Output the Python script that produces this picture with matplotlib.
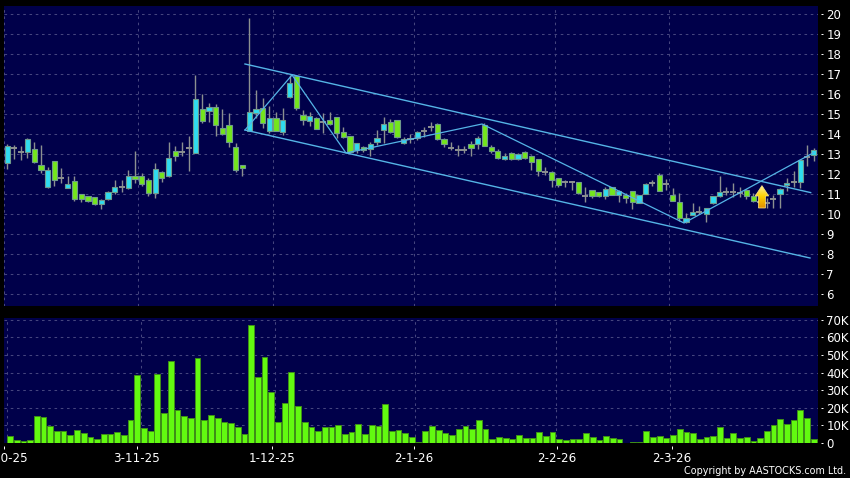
import matplotlib
matplotlib.use('Agg')
import matplotlib.pyplot as plt
import numpy as np
from matplotlib.patches import Polygon

# Daily candles
opens = [12.53, 13.32, 13.12, 13.12, 13.23, 12.43, 11.33, 12.63, 11.82, 11.32,
         11.63, 10.98, 10.92, 10.87, 10.52, 10.73, 11.12, 11.35, 11.28, 11.88,
         11.92, 11.68, 11.03, 12.08, 11.92, 13.13, 13.10, 13.28, 13.03, 15.23,
         15.17, 15.33, 14.28, 14.43, 13.33, 12.43, 14.17, 15.03, 15.32, 14.17,
         14.82, 14.12, 15.83, 16.92, 14.93, 14.63, 14.78, 14.58, 14.72, 14.83,
         14.12, 13.92, 13.20, 13.37, 13.23, 13.58, 14.18, 14.58, 14.68, 13.55,
         13.73, 13.78, 14.13, 14.37, 14.52, 13.73, 13.32, 13.18, 13.18, 13.48,
         13.48, 14.43, 13.37, 13.17, 12.73, 13.07, 12.73, 13.12, 12.90, 12.73,
         12.08, 12.12, 11.82, 11.60, 11.58, 11.58, 10.88, 11.22, 11.08, 10.88,
         11.37, 10.93, 10.97, 11.13, 10.57, 11.02, 11.53, 11.93, 11.48, 10.93,
         10.58, 9.62, 9.97, 10.12, 9.98, 10.53, 10.92, 11.10, 11.08, 11.03,
         11.18, 10.92, 10.62, 10.55, 10.77, 10.98, 11.45, 11.58, 11.58, 12.87,
         12.95]
closes = [13.40, 13.32, 13.12, 13.73, 12.62, 12.18, 12.18, 11.68, 11.82, 11.48,
          10.73, 10.73, 10.67, 10.52, 10.68, 11.08, 11.33, 11.35, 11.92, 11.77,
          11.52, 11.05, 12.27, 11.82, 12.78, 12.92, 13.10, 13.28, 15.73, 14.67,
          15.33, 14.43, 14.02, 13.62, 12.22, 12.32, 15.12, 15.23, 14.53, 14.82,
          14.17, 14.72, 16.53, 15.28, 14.72, 14.92, 14.27, 14.58, 14.52, 14.05,
          13.83, 13.12, 13.53, 13.18, 13.48, 13.82, 14.52, 14.08, 13.83, 13.77,
          13.73, 14.12, 14.13, 14.37, 13.73, 13.48, 13.32, 13.18, 13.18, 13.28,
          13.82, 13.42, 13.17, 12.82, 12.92, 12.73, 12.98, 12.78, 12.58, 12.13,
          12.08, 11.68, 11.43, 11.60, 11.58, 11.03, 10.88, 10.90, 10.88, 11.27,
          10.97, 11.13, 10.78, 10.58, 10.93, 11.52, 11.53, 11.17, 11.48, 10.67,
          9.78, 9.78, 10.12, 10.12, 10.32, 10.88, 11.08, 11.10, 11.08, 11.03,
          10.88, 10.67, 10.62, 10.55, 10.77, 11.27, 11.57, 11.58, 12.70, 12.87,
          13.20]
highs = [13.48, 13.45, 13.40, 13.78, 13.62, 13.45, 12.33, 12.63, 12.28, 11.90,
         11.90, 10.98, 10.92, 10.87, 10.73, 11.15, 11.70, 11.70, 12.20, 13.15,
         12.03, 11.78, 12.53, 12.15, 13.58, 13.40, 13.58, 13.92, 16.95, 16.00,
         15.53, 15.48, 15.23, 15.03, 13.53, 12.43, 19.80, 16.20, 15.78, 15.40,
         15.12, 15.28, 16.95, 16.92, 15.20, 15.12, 14.83, 15.03, 15.08, 14.83,
         14.37, 13.92, 13.53, 13.42, 13.62, 14.20, 14.87, 14.73, 14.70, 13.83,
         14.00, 14.17, 14.37, 14.62, 14.57, 13.78, 13.62, 13.45, 13.40, 13.65,
         13.90, 14.53, 13.45, 13.23, 13.03, 13.10, 13.03, 13.17, 12.95, 12.73,
         12.33, 12.15, 11.82, 11.70, 11.67, 11.58, 11.33, 11.22, 11.08, 11.37,
         11.37, 11.20, 11.03, 11.13, 10.95, 11.57, 11.70, 12.03, 11.73, 11.28,
         11.03, 10.03, 10.53, 10.40, 10.32, 10.92, 11.90, 11.33, 11.53, 11.33,
         11.23, 11.03, 10.87, 10.78, 10.95, 11.28, 11.78, 12.15, 12.73, 13.45,
         13.28]
lows = [12.25, 12.75, 12.70, 12.82, 12.57, 12.03, 11.32, 11.40, 11.57, 11.28,
        10.67, 10.62, 10.62, 10.45, 10.23, 10.70, 11.00, 11.12, 11.25, 11.57,
        11.42, 10.92, 10.82, 11.62, 11.83, 12.67, 12.92, 12.15, 13.03, 14.57,
        14.62, 13.92, 13.95, 13.37, 12.12, 11.92, 14.17, 14.78, 14.28, 14.03,
        14.17, 13.95, 15.78, 15.20, 14.45, 14.42, 14.23, 14.03, 14.45, 13.78,
        13.78, 13.07, 13.03, 13.08, 12.92, 13.45, 13.53, 14.03, 13.82, 13.50,
        13.57, 13.70, 13.87, 14.17, 13.70, 13.33, 13.20, 12.92, 13.03, 12.92,
        13.23, 13.40, 13.07, 12.73, 12.70, 12.72, 12.70, 12.73, 12.20, 11.92,
        11.95, 11.37, 11.33, 11.33, 11.20, 11.00, 10.62, 10.82, 10.87, 10.75,
        10.95, 10.62, 10.57, 10.25, 10.53, 11.00, 11.40, 11.15, 11.20, 10.65,
        9.67, 9.53, 9.93, 10.00, 9.62, 10.50, 10.87, 10.95, 10.87, 10.87,
        10.73, 10.62, 10.45, 10.28, 10.28, 10.32, 11.17, 11.37, 11.32, 12.42,
        12.67]

# Volume in thousands
volume = [4.2, 1.7, 0.9, 1.7, 15.1, 14.7, 9.4, 7.0, 6.6, 4.3,
          7.4, 5.8, 3.4, 2.3, 5.1, 5.3, 6.4, 4.3, 13.0, 38.7,
          8.3, 7.0, 39.0, 17.2, 46.6, 18.9, 15.5, 14.0, 48.1, 13.2,
          16.0, 14.2, 12.1, 11.5, 9.0, 5.3, 66.8, 37.5, 48.7, 29.0,
          11.7, 22.6, 40.6, 20.8, 12.1, 9.2, 6.8, 9.2, 9.0, 10.4,
          5.3, 6.4, 10.9, 4.9, 10.4, 9.8, 22.3, 7.0, 7.4, 5.7,
          3.4, 0.5, 6.8, 9.8, 7.2, 5.5, 4.5, 8.1, 9.4, 8.1,
          13.0, 7.9, 2.5, 3.4, 2.8, 2.3, 4.7, 3.0, 2.8, 6.0,
          3.8, 6.0, 2.3, 1.9, 2.1, 2.5, 5.8, 3.4, 1.9, 4.0,
          2.8, 2.3, 0.2, 0.3, 0.5, 7.0, 3.4, 4.2, 2.8, 4.7,
          8.1, 6.2, 5.8, 2.1, 3.4, 4.2, 9.0, 2.8, 5.7, 3.0,
          3.4, 1.3, 2.6, 7.0, 10.2, 13.6, 10.9, 13.0, 18.9, 14.0,
          2.3]

# Channel and zigzag trend lines
upper_idx = [35.37, 119.55]
upper_price = [17.5, 11.07]
lower_idx = [35.37, 119.45]
lower_price = [14.2, 7.8]
zigzag_idx = [35.37, 42.37, 50.4, 70.64, 100.7, 120.0]
zigzag_price = [14.2, 16.95, 13.05, 14.5, 9.55, 13.07]

# Axis labels
date_ticks = [-0.9, 18.9, 39.1, 60.3, 81.6, 98.8]
date_labels = ['2-10-25', '3-11-25', '1-12-25', '2-1-26', '2-2-26', '2-3-26']
date_grid = [-0.5, 19.5, 39.5, 60.5, 81.5, 98.5]
price_ticks = list(range(6, 21))
vol_ticks = [0, 10, 20, 30, 40, 50, 60, 70]

BG = '#00004a'
CYAN = '#2fdcf0'
GREEN = '#74e61c'
WICK = '#8c9090'
GRID = '#45457e'
LINE = '#55b4e6'

W, H = 850, 478
fig = plt.figure(figsize=(8.5, 4.78), dpi=100, facecolor='black')
ax = fig.add_axes([4 / W, 1 - 306 / H, 814 / W, 300 / H], facecolor=BG)
vax = fig.add_axes([4 / W, 1 - 443 / H, 814 / W, 125 / H], facecolor=BG)

x = np.arange(len(closes))
o, c, hi, lo = map(np.array, (opens, closes, highs, lows))

# Candles
ax.vlines(x, lo, hi, color=WICK, lw=1.0, zorder=3)
colors = [CYAN if b > a else GREEN if b < a else WICK for a, b in zip(o, c)]
body = np.abs(c - o)
is_doji = body == 0
ax.bar(x[~is_doji], body[~is_doji], bottom=np.minimum(o, c)[~is_doji], width=0.78,
       color=np.array(colors)[~is_doji], edgecolor='#6f9a8c', linewidth=0.8, zorder=4)
ax.hlines(c[is_doji], x[is_doji] - 0.45, x[is_doji] + 0.45, color=WICK, lw=1.4, zorder=4)

# Trend lines
ax.plot(upper_idx, upper_price, color=LINE, lw=1.0, zorder=5)
ax.plot(lower_idx, lower_price, color=LINE, lw=1.0, zorder=5)
ax.plot(zigzag_idx, zigzag_price, color=LINE, lw=0.9, zorder=5)

# Gold signal arrow with a vertical gradient
ax_x, tip, neck, base = 112.3, 11.42, 10.9, 10.3
arrow = Polygon([(ax_x, tip), (ax_x + 1.0, neck), (ax_x + 0.52, neck), (ax_x + 0.52, base),
                 (ax_x - 0.52, base), (ax_x - 0.52, neck), (ax_x - 1.0, neck)],
                closed=True, facecolor='none', edgecolor='#ffe88a', lw=0.5, zorder=7)
ax.add_patch(arrow)
grad = np.linspace(0, 1, 64).reshape(-1, 1)
img = ax.imshow(grad, extent=(ax_x - 1.1, ax_x + 1.1, base, tip), origin='upper', aspect='auto',
                cmap=matplotlib.colors.LinearSegmentedColormap.from_list('gold', ['#fff2a0', '#ffd000', '#e09000']),
                zorder=6)
img.set_clip_path(arrow)

# Volume
vax.bar(x, volume, width=0.86, color='#62fa10', edgecolor='#3f8f18', linewidth=0.7, zorder=3)

ax.set_xlim(-0.49, 120.64)
vax.set_xlim(-0.49, 120.64)
ax.set_ylim(5.4, 20.4)
vax.set_ylim(0, 71)

for a, ticks in ((ax, price_ticks), (vax, vol_ticks)):
    a.set_yticks(ticks)
    a.grid(axis='y', color=GRID, lw=0.75, dashes=(2.5, 3.5), zorder=1)
    a.set_axisbelow(True)
    for g in date_grid:
        a.axvline(g, color=GRID, lw=0.75, dashes=(2.5, 3.5), zorder=1)
    a.yaxis.tick_right()
    for s in ('top', 'left', 'bottom'):
        a.spines[s].set_visible(False)
    a.spines['right'].set_position(('outward', 2))
    a.spines['right'].set_visible(True)
    a.spines['right'].set_linewidth(0)
    a.tick_params(axis='y', colors='white', labelsize=8.5, length=1.6, width=0.7, pad=2.5)

vax.set_yticklabels(['0' if t == 0 else f'{t}K' for t in vol_ticks])
ax.set_xticks([])
vax.set_xticks(date_ticks)
vax.set_xticklabels(date_labels)
vax.spines['bottom'].set_position(('outward', 2))
vax.spines['bottom'].set_visible(True)
vax.spines['bottom'].set_linewidth(0)
vax.tick_params(axis='x', colors='white', labelsize=8.6, length=1.8, width=0.7, pad=3)

fig.text(846 / W, 1 - 471 / H, 'Copyright by AASTOCKS.com Ltd.', color='white', fontsize=6.9,
         ha='right', va='center')

fig.savefig('out.png', dpi=100, facecolor='black')
